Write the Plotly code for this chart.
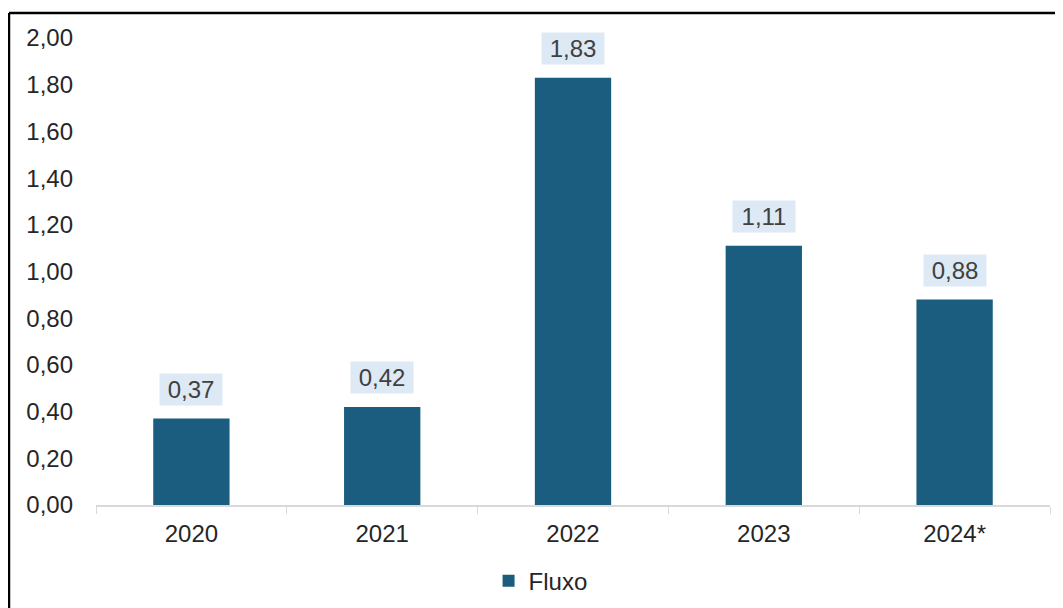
import plotly.graph_objects as go

categories = ["2020", "2021", "2022", "2023", "2024*"]
values = [0.37, 0.42, 1.83, 1.11, 0.88]
series_name = "Fluxo"
ytick_vals = [0, 0.2, 0.4, 0.6, 0.8, 1.0, 1.2, 1.4, 1.6, 1.8, 2.0]
ytick_text = [f"{v:.2f}".replace(".", ",") for v in ytick_vals]

bar_color = "#1a5d7e"
font_family = "Liberation Sans, Arial, sans-serif"
text_color = "#262626"

fig = go.Figure()
fig.add_trace(go.Bar(
    x=categories, y=values, name=series_name,
    marker=dict(color=bar_color, line=dict(width=0)),
    width=0.4, showlegend=True,
))

for i, v in enumerate(values):
    fig.add_annotation(
        x=i, y=v, text=f"{v:.2f}".replace(".", ","),
        showarrow=False, yanchor="bottom", yshift=13,
        bgcolor="#dde9f5", borderpad=2, width=58, height=27,
        font=dict(size=24, color="#404040", family=font_family),
    )

# chart border (top and left visible)
fig.add_shape(type="line", xref="paper", yref="paper",
              x0=-0.0912, x1=1.02, y0=1.0535, y1=1.0535,
              line=dict(color="#000000", width=2.5))
fig.add_shape(type="line", xref="paper", yref="paper",
              x0=-0.0912, x1=-0.0912, y0=1.0535, y1=-0.3,
              line=dict(color="#000000", width=2.5))

fig.update_layout(
    width=1055, height=600,
    margin=dict(l=88, r=13, t=30, b=103, autoexpand=False),
    paper_bgcolor="white", plot_bgcolor="white",
    font=dict(family=font_family, size=24, color=text_color),
    legend=dict(orientation="h", x=0.466, xanchor="center", y=-0.115, yanchor="top",
                font=dict(size=24, color=text_color), itemwidth=30),
    xaxis=dict(type="category", range=[-0.5, 4.5], showline=True, linecolor="#d9d9d9", linewidth=1.5,
               ticks="outside", tickson="boundaries", ticklen=7, tickcolor="#d9d9d9",
               tickfont=dict(size=24, color=text_color), showgrid=False, tickangle=0,
               ticklabelstandoff=6),
    yaxis=dict(range=[0, 2.0], tickvals=ytick_vals, ticktext=ytick_text,
               showgrid=False, zeroline=False, showline=False, ticks="",
               tickfont=dict(size=24, color=text_color), ticklabelstandoff=22),
)

fig.write_html("out.html")
